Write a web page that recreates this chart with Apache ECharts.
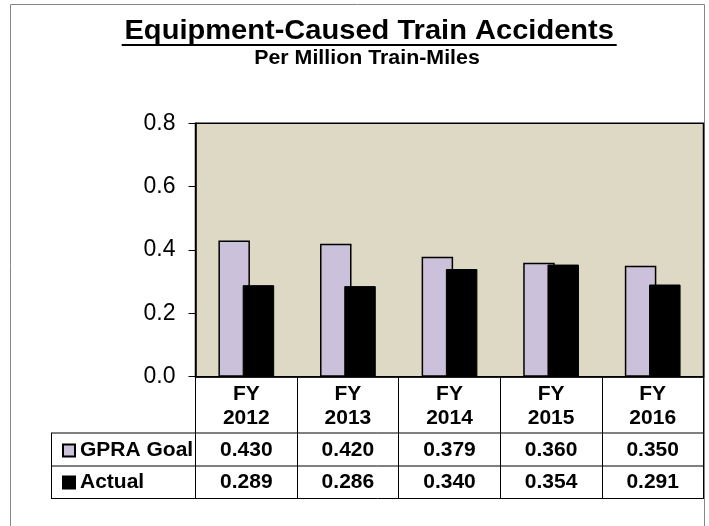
<!DOCTYPE html>
<html>
<head>
<meta charset="utf-8">
<script src="https://cdn.jsdelivr.net/npm/echarts@6/dist/echarts.min.js"></script>
<style>
html,body{margin:0;padding:0;background:#fff;}
#chart{width:709px;height:526px;}
</style>
</head>
<body>
<div id="chart"></div>
<script>
const titleText = 'Equipment-Caused Train Accidents';
const subtitleText = 'Per Million Train-Miles';
const categories = ['FY\n2012', 'FY\n2013', 'FY\n2014', 'FY\n2015', 'FY\n2016'];
const seriesNames = ['GPRA Goal', 'Actual'];
const goalValues = [0.430, 0.420, 0.379, 0.360, 0.350];
const actualValues = [0.289, 0.286, 0.340, 0.354, 0.291];
const yMin = 0, yMax = 0.8, yStep = 0.2;

const FONT = '"Liberation Sans", Arial, sans-serif';
const chart = echarts.init(document.getElementById('chart'), null, {renderer: 'canvas'});

const tableLabel = {
  interval: 0, fontSize: 21, fontWeight: 'bold', color: '#000', fontFamily: FONT
};

chart.setOption({
  animation: false,
  backgroundColor: '#fff',
  textStyle: {fontFamily: FONT},
  grid: {
    left: 195.5, right: 5.5, top: 123.3, bottom: 149.3,
    show: true, backgroundColor: '#DDD9C4', borderColor: '#000', borderWidth: 1.5
  },
  legend: {
    data: seriesNames,
    orient: 'vertical',
    left: 57, top: 435,
    icon: 'rect', itemWidth: 12, itemHeight: 12, itemGap: 11,
    textStyle: {fontSize: 21, fontWeight: 'bold', color: '#000', fontFamily: FONT}
  },
  xAxis: [
    {
      type: 'category', data: categories, position: 'bottom',
      axisLine: {lineStyle: {color: '#000', width: 1.5}},
      axisTick: {show: true, alignWithLabel: false, interval: 0, length: 121.5, lineStyle: {color: '#000', width: 1}},
      axisLabel: Object.assign({}, tableLabel, {lineHeight: 23.6, margin: 6})
    },
    {
      type: 'category', data: categories, position: 'bottom',
      axisLine: {show: false}, axisTick: {show: false},
      axisLabel: Object.assign({}, tableLabel, {lineHeight: 21, margin: 63,
        formatter: (v, i) => goalValues[i].toFixed(3)})
    },
    {
      type: 'category', data: categories, position: 'bottom',
      axisLine: {show: false}, axisTick: {show: false},
      axisLabel: Object.assign({}, tableLabel, {lineHeight: 21, margin: 95.5,
        formatter: (v, i) => actualValues[i].toFixed(3)})
    }
  ],
  yAxis: {
    type: 'value', min: yMin, max: yMax, interval: yStep,
    axisLine: {show: true, lineStyle: {color: '#000', width: 1.5}},
    axisTick: {show: true, length: 7, lineStyle: {color: '#000', width: 1}},
    splitLine: {show: false},
    axisLabel: {fontSize: 23, color: '#000', margin: 20, fontFamily: FONT,
      formatter: v => v.toFixed(1)}
  },
  series: [
    {
      name: seriesNames[0], type: 'bar', xAxisIndex: 0, data: goalValues,
      barWidth: 31.5, barGap: '-23%',
      itemStyle: {color: '#CCC1DA', borderColor: '#000', borderWidth: 1.5}
    },
    {
      name: seriesNames[1], type: 'bar', xAxisIndex: 0, data: actualValues,
      barWidth: 31.5,
      itemStyle: {color: '#000', borderColor: '#000', borderWidth: 1}
    }
  ],
  graphic: [
    {type: 'rect', z: -10, shape: {x: 10.5, y: 4.5, width: 694, height: 560},
      style: {fill: 'none', stroke: '#868686', lineWidth: 1}},
    {type: 'text', x: 369.2, y: 31.5, scaleX: 1.02,
      style: {text: titleText, font: 'bold 28.5px ' + FONT, fill: '#000', textAlign: 'center', textVerticalAlign: 'middle'}},
    {type: 'line', shape: {x1: 121.7, y1: 45, x2: 616.7, y2: 45}, style: {stroke: '#000', lineWidth: 2}},
    {type: 'text', x: 367, y: 59, scaleX: 1.08,
      style: {text: subtitleText, font: 'bold 19.8px ' + FONT, fill: '#000', textAlign: 'center', textVerticalAlign: 'middle'}},
    {type: 'line', shape: {x1: 51, y1: 433, x2: 704, y2: 433}, style: {stroke: '#000', lineWidth: 1}},
    {type: 'line', shape: {x1: 51, y1: 466, x2: 704, y2: 466}, style: {stroke: '#000', lineWidth: 1}},
    {type: 'line', shape: {x1: 51, y1: 498.5, x2: 704, y2: 498.5}, style: {stroke: '#000', lineWidth: 1}},
    {type: 'line', shape: {x1: 51.5, y1: 433, x2: 51.5, y2: 498.5}, style: {stroke: '#000', lineWidth: 1}}
  ]
});
</script>
</body>
</html>
